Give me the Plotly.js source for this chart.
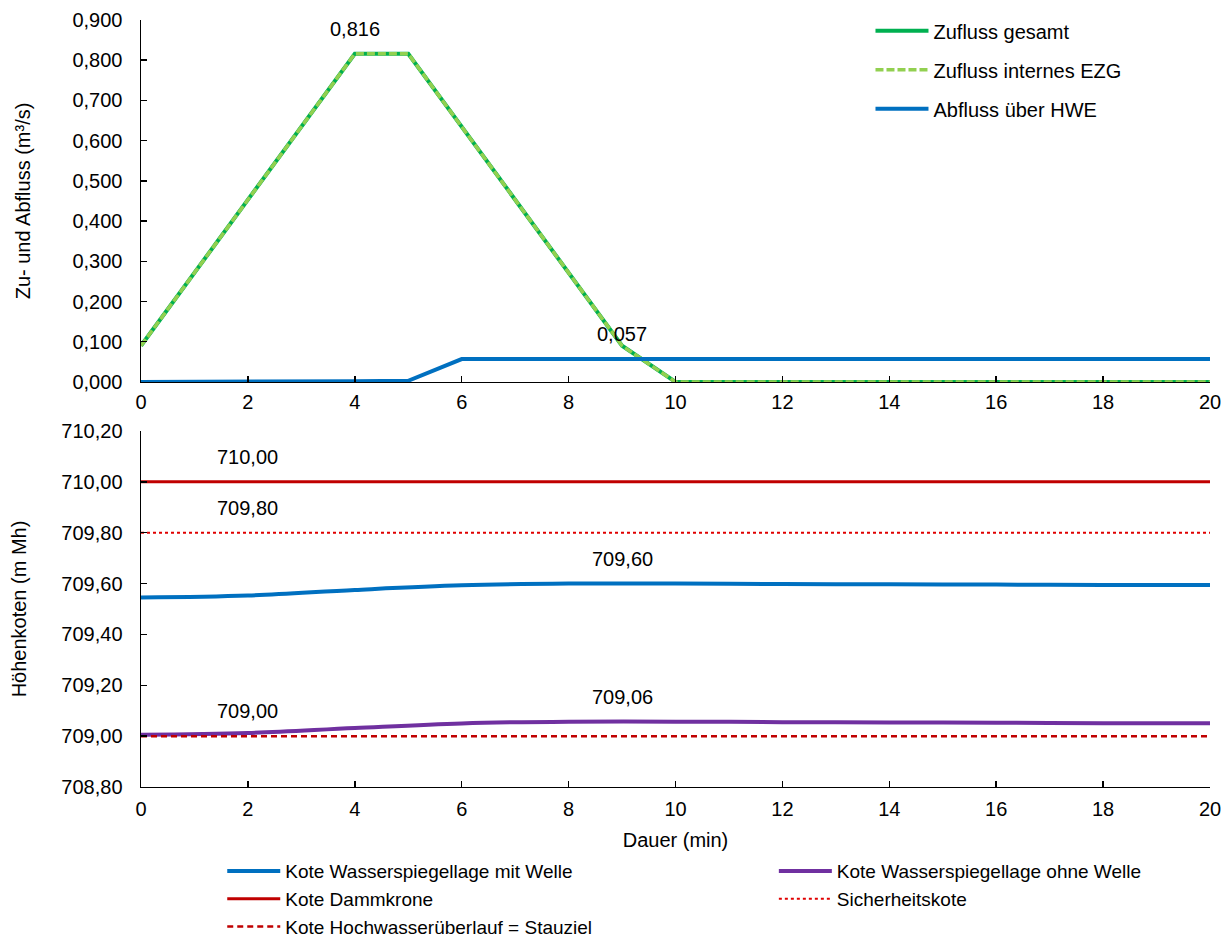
<!DOCTYPE html>
<html><head><meta charset="utf-8">
<script src="https://cdn.plot.ly/plotly-3.0.1.min.js"></script>
<style>html,body{margin:0;padding:0;background:#fff}</style>
</head><body><div id="chart" style="width:1228px;height:938px"></div>
<script>
const minutes = [0,1,2,3,4,5,6,7,8,9,10,11,12,13,14,15,16,17,18,19,20];
const zuflussGesamt = [0.090,0.272,0.453,0.634,0.816,0.816,0.634,0.453,0.272,0.090,0,0,0,0,0,0,0,0,0,0,0];
const zuflussIntern = [0.090,0.272,0.453,0.634,0.816,0.816,0.634,0.453,0.272,0.090,0,0,0,0,0,0,0,0,0,0,0];
const abflussHWE = [0.000,0.000,0.001,0.001,0.002,0.003,0.057,0.057,0.057,0.057,0.057,0.057,0.057,0.057,0.057,0.057,0.057,0.057,0.057,0.057,0.057];
const levelMin = [0,2,4,6,8,10,12,14,16,18,20];
const koteMitWelle = [709.545,709.553,709.575,709.593,709.600,709.600,709.598,709.597,709.596,709.594,709.594];
const koteOhneWelle = [709.005,709.012,709.032,709.050,709.057,709.057,709.055,709.054,709.053,709.051,709.051];
const dammkrone = [710.00,710.00,710.00,710.00,710.00,710.00,710.00,710.00,710.00,710.00,710.00];
const sicherheitskote = [709.80,709.80,709.80,709.80,709.80,709.80,709.80,709.80,709.80,709.80,709.80];
const stauziel = [709.00,709.00,709.00,709.00,709.00,709.00,709.00,709.00,709.00,709.00,709.00];
const topTicks = [0,0.1,0.2,0.3,0.4,0.5,0.6,0.7,0.8,0.9];
const bottomTicks = [708.8,709.0,709.2,709.4,709.6,709.8,710.0,710.2];
const xTicks = [0,2,4,6,8,10,12,14,16,18,20];

const FONT = 'Liberation Sans, Arial, sans-serif';
const FS = 20;
const traces = [
  {x: minutes, y: zuflussGesamt, name: 'Zufluss gesamt', mode: 'lines', line: {color: '#00B050', width: 4}, xaxis: 'x', yaxis: 'y', legend: 'legend', legendgroup: 'a'},
  {x: minutes, y: zuflussIntern, name: 'Zufluss internes EZG', mode: 'lines', line: {color: '#92D050', width: 3.5, dash: '8px,3px'}, xaxis: 'x', yaxis: 'y', legend: 'legend', legendgroup: 'b'},
  {x: minutes, y: abflussHWE, name: 'Abfluss über HWE', mode: 'lines', line: {color: '#0070C0', width: 4}, xaxis: 'x', yaxis: 'y', legend: 'legend', legendgroup: 'c'},
  {x: levelMin, y: koteMitWelle, name: 'Kote Wasserspiegellage mit Welle', mode: 'lines', line: {color: '#0070C0', width: 4, shape: 'spline'}, xaxis: 'x2', yaxis: 'y2', legend: 'legend2', legendgroup: 'd'},
  {x: levelMin, y: koteOhneWelle, name: 'Kote Wasserspiegellage ohne Welle', mode: 'lines', line: {color: '#7030A0', width: 4, shape: 'spline'}, xaxis: 'x2', yaxis: 'y2', legend: 'legend3', legendgroup: 'e'},
  {x: levelMin, y: dammkrone, name: 'Kote Dammkrone', mode: 'lines', line: {color: '#C00000', width: 3}, xaxis: 'x2', yaxis: 'y2', legend: 'legend2', legendgroup: 'f'},
  {x: levelMin, y: sicherheitskote, name: 'Sicherheitskote', mode: 'lines', line: {color: '#E00000', width: 2, dash: 'dot'}, xaxis: 'x2', yaxis: 'y2', legend: 'legend3', legendgroup: 'g'},
  {x: levelMin, y: stauziel, name: 'Kote Hochwasserüberlauf = Stauziel', mode: 'lines', line: {color: '#C00000', width: 2.5, dash: '6px,4px'}, xaxis: 'x2', yaxis: 'y2', legend: 'legend2', legendgroup: 'h'}
];

const fmt2 = v => v.toFixed(2).replace('.', ',');
const fmt3 = v => v.toFixed(3).replace('.', ',');
const ann = (x, y, text, xr, yr) => ({x: x, y: y, xref: xr, yref: yr, text: text, showarrow: false, yshift: 25, font: {family: FONT, size: FS, color: '#000'}});
const peak = Math.max(...zuflussGesamt);
const outMax = Math.max(...abflussHWE);
const annotations = [
  ann(4, peak, fmt3(peak), 'x', 'y'),
  ann(9, outMax, fmt3(outMax), 'x', 'y'),
  ann(2, dammkrone[0], fmt2(dammkrone[0]), 'x2', 'y2'),
  ann(2, sicherheitskote[0], fmt2(sicherheitskote[0]), 'x2', 'y2'),
  ann(9, Math.max(...koteMitWelle), fmt2(Math.max(...koteMitWelle)), 'x2', 'y2'),
  ann(9, Math.max(...koteOhneWelle), fmt2(Math.max(...koteOhneWelle)), 'x2', 'y2'),
  ann(2, stauziel[0], fmt2(stauziel[0]), 'x2', 'y2')
];

const axisBase = {showline: true, linecolor: '#000', linewidth: 1.5, ticks: 'inside', ticklen: 6, tickwidth: 1.5, tickcolor: '#000', showgrid: false, zeroline: false, tickfont: {family: FONT, size: FS, color: '#000'}};
const legendBase = {xanchor: 'left', yanchor: 'top', bgcolor: 'rgba(0,0,0,0)', font: {family: FONT, size: 19, color: '#000'}, tracegroupgap: 0, itemwidth: 53, traceorder: 'normal'};
const layout = {
  width: 1228, height: 938,
  margin: {l: 141, r: 18, t: 0, b: 0, autoexpand: false},
  paper_bgcolor: '#fff', plot_bgcolor: '#fff',
  separators: ',.',
  font: {family: FONT, size: FS, color: '#000'},
  xaxis: Object.assign({}, axisBase, {domain: [0, 1], range: [0, 20], tickvals: xTicks, anchor: 'y', ticklabelstandoff: 2}),
  yaxis: Object.assign({}, axisBase, {domain: [0.5928, 0.9787], range: [0, 0.9], tickvals: topTicks, tickformat: '.3f', anchor: 'x', ticklabelstandoff: 13,
    title: {text: 'Zu- und Abfluss (m³/s)', font: {family: FONT, size: FS}, standoff: 36}}),
  xaxis2: Object.assign({}, axisBase, {domain: [0, 1], range: [0, 20], tickvals: xTicks, anchor: 'y2', ticklabelstandoff: 4,
    title: {text: 'Dauer (min)', font: {family: FONT, size: FS}, standoff: 13}}),
  yaxis2: Object.assign({}, axisBase, {domain: [0.161, 0.5405], range: [708.8, 710.2], tickvals: bottomTicks, tickformat: '.2f', anchor: 'x2', ticklabelstandoff: 13,
    title: {text: 'Höhenkoten (m Mh)', font: {family: FONT, size: FS}, standoff: 29}}),
  legend: Object.assign({}, legendBase, {x: 0.6824, y: 0.988, tracegroupgap: 10, traceorder: 'grouped', font: {family: FONT, size: FS, color: '#000'}}),
  legend2: Object.assign({}, legendBase, {x: 0.076, y: 0.0915}),
  legend3: Object.assign({}, legendBase, {x: 0.592, y: 0.0915}),
  annotations: annotations,
  showlegend: true
};
Plotly.newPlot('chart', traces, layout, {displayModeBar: false, staticPlot: true});
</script></body></html>
